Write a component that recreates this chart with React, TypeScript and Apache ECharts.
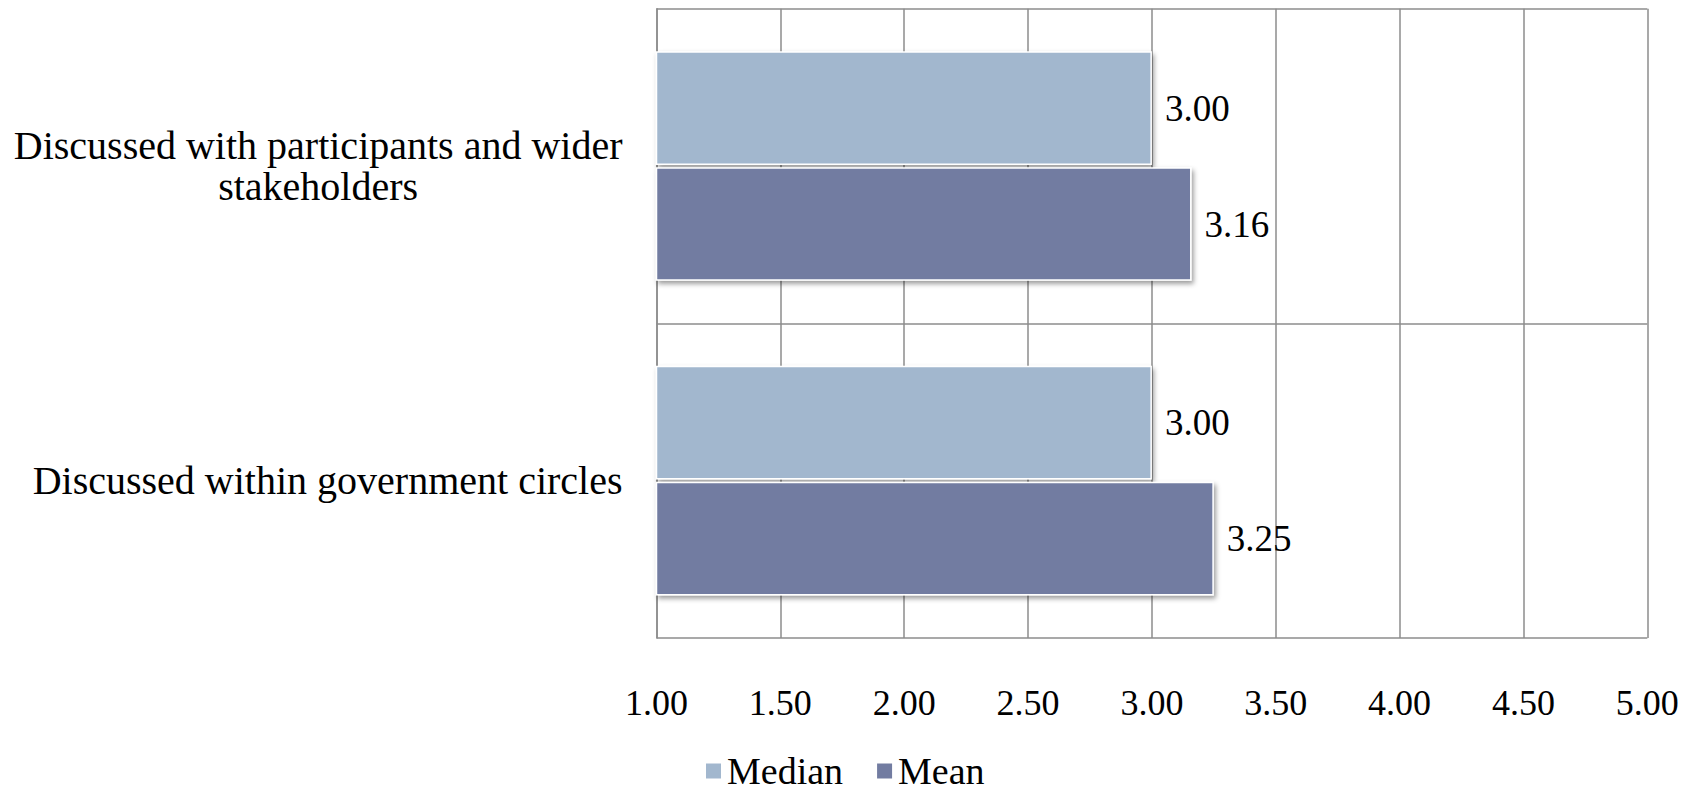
import React, { useEffect, useRef } from "react";
import * as echarts from "echarts";

const categories = [
  "Discussed within government circles",
  "Discussed with participants and wider\nstakeholders",
];
const medianValues = [3.0, 3.0];
const meanValues = [3.25, 3.16];
const seriesNames = ["Median", "Mean"];
const xMin = 1;
const xMax = 5;
const xInterval = 0.5;

const FONT = "'Liberation Serif', 'Times New Roman', serif";

export default function App() {
  const ref = useRef<HTMLDivElement>(null);
  useEffect(() => {
    if (!ref.current) return;
    const chart = echarts.init(ref.current, undefined, { renderer: "svg" });
    const grid = "#8c8c8c";
    const barStyle = (color: string) => ({
      color,
      borderColor: "#ffffff",
      borderWidth: 1.5,
      shadowColor: "rgba(0,0,0,0.4)",
      shadowBlur: 5,
      shadowOffsetX: 2,
      shadowOffsetY: 3,
    });
    const label = {
      show: true,
      position: "right",
      distance: 13,
      color: "#000",
      fontFamily: FONT,
      fontSize: 37,
      formatter: (p: any) => Number(p.value).toFixed(2),
    };
    chart.setOption({
      animation: false,
      backgroundColor: "#ffffff",
      grid: { left: 656.5, right: 48.7, top: 8.7, bottom: 156, containLabel: false },
      legend: {
        data: seriesNames,
        left: 704,
        top: 752,
        padding: 0,
        icon: "rect",
        itemWidth: 17,
        itemHeight: 17,
        itemGap: 32,
        textStyle: { fontFamily: FONT, fontSize: 38, color: "#000", lineHeight: 38 },
      },
      xAxis: {
        type: "value",
        min: xMin,
        max: xMax,
        interval: xInterval,
        axisLine: { show: false },
        axisTick: { show: false },
        splitLine: { show: true, lineStyle: { color: grid, width: 1.5 } },
        axisLabel: {
          margin: 47,
          color: "#000",
          fontFamily: FONT,
          fontSize: 36,
          formatter: (v: number) => v.toFixed(2),
        },
      },
      yAxis: {
        type: "category",
        data: categories,
        axisLine: { show: true, lineStyle: { color: grid, width: 1.5 } },
        axisTick: { show: false },
        splitLine: { show: true, lineStyle: { color: grid, width: 1.5 } },
        axisLabel: {
          margin: 34,
          color: "#000",
          fontFamily: FONT,
          fontSize: 40,
          lineHeight: 41,
          align: "right",
          formatter: (v: string) =>
            v
              .split("\n")
              .map((s) => "{c|" + s + "}")
              .join("\n"),
          rich: {
            c: { align: "center", fontFamily: FONT, fontSize: 40, lineHeight: 41, color: "#000" },
          },
        },
      },
      series: [
        {
          name: seriesNames[0],
          type: "bar",
          data: medianValues,
          barCategoryGap: "27%",
          barGap: "2%",
          itemStyle: barStyle("#a2b7ce"),
          label,
        },
        {
          name: seriesNames[1],
          type: "bar",
          data: meanValues,
          barCategoryGap: "27%",
          barGap: "2%",
          itemStyle: barStyle("#727ca1"),
          label,
        },
      ],
    });
    return () => chart.dispose();
  }, []);
  return (
    <div
      ref={ref}
      style={{ position: "fixed", left: 0, top: 0, width: 1696, height: 794, background: "#fff" }}
    />
  );
}
